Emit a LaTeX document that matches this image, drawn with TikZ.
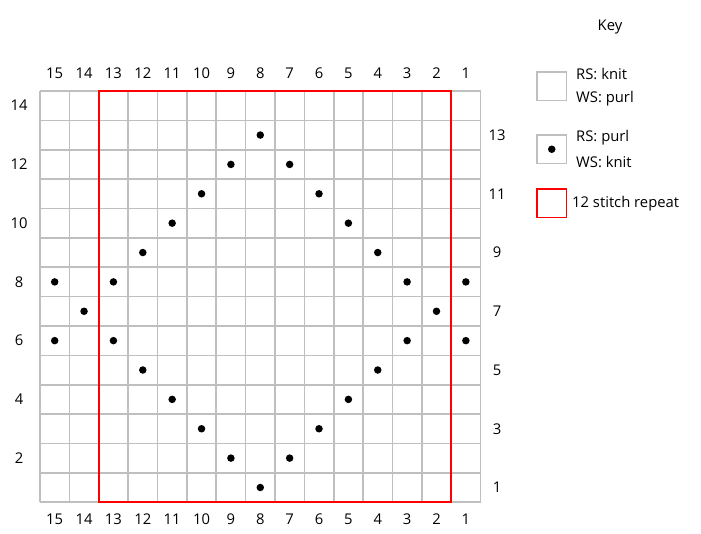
\documentclass[tikz,border=0pt]{standalone}
\usepackage{fontspec}
\setmainfont{Open Sans}
\begin{document}
\begin{tikzpicture}[x=1pt,y=-1pt,
  gridline/.style={draw=black!25, line width=1.6pt},
  repeatline/.style={draw=red, line width=1.6pt},
  lbl/.style={font=\fontsize{14.8}{17}\selectfont, inner sep=0pt},
  stitchdot/.style={circle, fill=black, inner sep=0pt, minimum size=7.5pt}]
\useasboundingbox[fill=white] (0,0) rectangle (701,534);
\def\c{29.37}
% grid
\foreach \i in {0,...,15}
  \draw[gridline] ({40+\i*\c},91) -- ({40+\i*\c},{91+14*\c});
\foreach \j in {0,...,14}
  \draw[gridline] (40,{91+\j*\c}) -- ({40+15*\c},{91+\j*\c});
% column numbers
\foreach \i in {0,...,14}{
  \pgfmathtruncatemacro{\n}{15-\i}
  \node[lbl] (top\n) at ({40+(\i+0.5)*\c},73) {\n};
  \node[lbl] (bot\n) at ({40+(\i+0.5)*\c},519) {\n};
}
% row numbers
\foreach \r in {2,4,...,14}
  \node[lbl] (row\r) at (19,{91+(14-\r+0.5)*\c}) {\r};
\foreach \r in {1,3,...,13}
  \node[lbl] (row\r) at (497,{91+(14-\r+0.5)*\c}) {\r};
% dots
\foreach \n/\r in {8/1, 9/2, 7/2, 10/3, 6/3, 11/4, 5/4, 12/5, 4/5,
  15/6, 13/6, 3/6, 1/6, 14/7, 2/7, 15/8, 13/8, 3/8, 1/8,
  12/9, 4/9, 11/10, 5/10, 10/11, 6/11, 9/12, 7/12, 8/13}
  \node[stitchdot] (d\n-\r) at ({40+(15-\n+0.5)*\c},{91+(14-\r+0.5)*\c}) {};
% repeat box
\draw[repeatline] ({40+2*\c},91) rectangle ({40+14*\c},{91+14*\c});
% key
\node[lbl] (keytitle) at (610,27) {Key};
\draw[gridline] (537,72) rectangle (566.5,100.5);
\node[lbl, anchor=west] (k1a) at (576,74) {RS: knit};
\node[lbl, anchor=west] (k1b) at (576,99) {WS: purl};
\draw[gridline] (537,135) rectangle (566.5,163.5);
\node[stitchdot] (kdot) at (551.75,149.25) {};
\node[lbl, anchor=west] (k2a) at (576,138) {RS: purl};
\node[lbl, anchor=west] (k2b) at (576,162) {WS: knit};
\draw[repeatline] (537,189) rectangle (566.5,217.5);
\node[lbl, anchor=west] (k3) at (572,204) {12 stitch repeat};
\end{tikzpicture}
\end{document}
